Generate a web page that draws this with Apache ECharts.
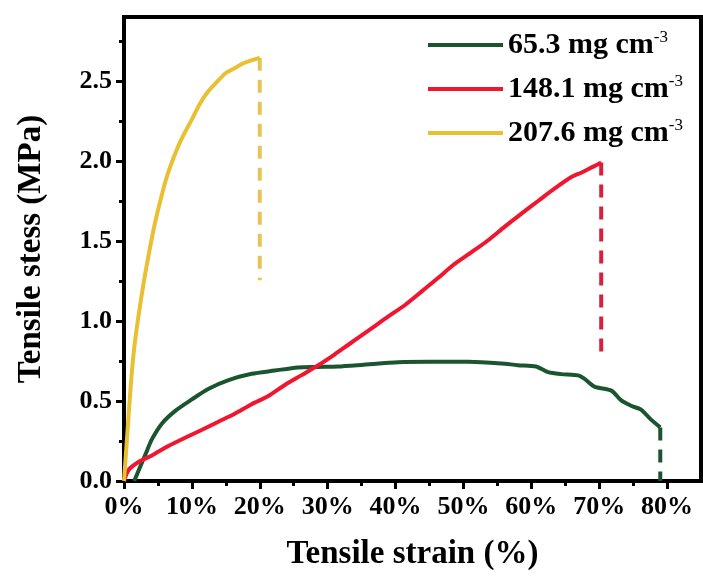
<!DOCTYPE html>
<html>
<head>
<meta charset="utf-8">
<script src="https://cdn.jsdelivr.net/npm/echarts@6/dist/echarts.min.js"></script>
<style>
  html, body { margin: 0; padding: 0; background: #fff; }
  #main { width: 703px; height: 579px; }
</style>
</head>
<body>
<div id="main"></div>
<script>
// sample names (density)
var names = ['65.3', '148.1', '207.6'];
var colors = ['#1b5530', '#f0162f', '#e8c032'];
var dashColors = ['#1f5232', '#d81f3b', '#e5c55a'];

// 65.3 mg cm-3
var strain1 = [1.5, 2.2, 3.2, 4.1, 5.6, 7.6, 10, 12.4, 15.4, 18.8, 22.2, 25.6, 28.5, 31.5, 35, 40.4, 45, 50.7, 55.6, 58, 60.7, 62.5, 64.4, 66.9, 67.8, 69.3, 71.8, 73.2, 74.7, 76.2, 77.6, 79];
var stress1 = [0, 0.07, 0.17, 0.26, 0.36, 0.44, 0.51, 0.575, 0.63, 0.67, 0.69, 0.71, 0.713, 0.715, 0.725, 0.742, 0.745, 0.745, 0.735, 0.724, 0.716, 0.68, 0.668, 0.66, 0.64, 0.59, 0.565, 0.505, 0.47, 0.445, 0.385, 0.335];

// 148.1 mg cm-3
var strain2 = [0, 0.7, 2.2, 4.1, 6.6, 9, 11.5, 13.9, 16.3, 18.8, 21.2, 23.7, 26.1, 28.5, 31, 33, 35, 37, 39, 41.4, 44, 46.3, 48.5, 51.2, 53.5, 56.1, 58.5, 61, 63.5, 65.9, 67.5, 68.9, 70.3];
var stress2 = [0, 0.07, 0.12, 0.16, 0.22, 0.27, 0.32, 0.37, 0.42, 0.48, 0.53, 0.6, 0.66, 0.72, 0.79, 0.85, 0.91, 0.97, 1.03, 1.1, 1.19, 1.27, 1.35, 1.43, 1.5, 1.59, 1.67, 1.75, 1.83, 1.9, 1.93, 1.96, 1.99];

// 207.6 mg cm-3
var strain3 = [0, 0.5, 1, 1.5, 2.2, 2.9, 3.66, 4.5, 5.4, 6.3, 7.3, 8.5, 10, 11.2, 12.5, 13.8, 15, 16.3, 17.5, 18.8, 20];
var stress3 = [0, 0.3, 0.6, 0.83, 1.05, 1.24, 1.42, 1.6, 1.76, 1.9, 2.02, 2.14, 2.26, 2.36, 2.44, 2.5, 2.55, 2.58, 2.61, 2.63, 2.645];

// fracture (dashed drop)
var breakStrain = [79, 70.3, 20];
var breakBottom = [0, 0.755, 1.255];

var xTicks = [0, 10, 20, 30, 40, 50, 60, 70, 80];
var xMinorTicks = [5, 15, 25, 35, 45, 55, 65, 75];
var yTicks = [0, 0.5, 1.0, 1.5, 2.0, 2.5];
var yMinorTicks = [0.25, 0.75, 1.25, 1.75, 2.25, 2.75];

var FONT = '"Liberation Serif", "Times New Roman", serif';
var strains = [strain1, strain2, strain3];
var stresses = [stress1, stress2, stress3];

function pairs(xs, ys) {
  return xs.map(function (x, i) { return [x, ys[i]]; });
}

var series = [];
names.forEach(function (n, i) {
  series.push({
    name: n, type: 'line', data: pairs(strains[i], stresses[i]),
    showSymbol: false, smooth: 0.25,
    lineStyle: { color: colors[i], width: 4 }, itemStyle: { color: colors[i] },
    z: 3 + i
  });
});
names.forEach(function (n, i) {
  var s = stresses[i];
  series.push({
    name: n + ' break', type: 'line',
    data: [[breakStrain[i], s[s.length - 1]], [breakStrain[i], breakBottom[i]]],
    showSymbol: false,
    lineStyle: { color: dashColors[i], width: 4, type: [13, 9] },
    z: 2
  });
});

var chart = echarts.init(document.getElementById('main'));
var option = {
  animation: false,
  backgroundColor: '#fff',
  grid: { left: 124, right: 2, top: 17, bottom: 98, show: true, borderColor: '#000', borderWidth: 4 },
  legend: {
    data: names, orient: 'vertical', left: 423, top: 24,
    itemWidth: 75, itemHeight: 4, itemGap: 13, icon: 'rect',
    formatter: function (name) { return '{a|' + name + ' mg cm}{s|-3}'; },
    textStyle: {
      rich: {
        a: { fontFamily: FONT, fontSize: 30, fontWeight: 'bold', color: '#000', lineHeight: 32 },
        s: { fontFamily: FONT, fontSize: 17, color: '#000', lineHeight: 32, verticalAlign: 'top' }
      }
    }
  },
  xAxis: [{
    type: 'value', min: 0, max: 85,
    name: 'Tensile strain (%)', nameLocation: 'middle', nameGap: 57,
    nameTextStyle: { fontFamily: FONT, fontSize: 33, fontWeight: 'bold', color: '#000' },
    axisLine: { show: true, lineStyle: { color: '#000', width: 4 } },
    axisTick: { show: true, customValues: xTicks, length: 8, lineStyle: { color: '#000', width: 3 } },
    axisLabel: {
      customValues: xTicks, margin: 13,
      formatter: function (v) { return v + '%'; },
      fontFamily: FONT, fontSize: 26, fontWeight: 'bold', color: '#000'
    },
    splitLine: { show: false }
  }, {
    type: 'value', min: 0, max: 85, position: 'bottom',
    axisLine: { show: false },
    axisTick: { show: true, customValues: xMinorTicks, length: 5, lineStyle: { color: '#000', width: 3 } },
    axisLabel: { show: false }, splitLine: { show: false }
  }],
  yAxis: [{
    type: 'value', min: 0, max: 2.9,
    name: 'Tensile stess (MPa)', nameLocation: 'middle', nameGap: 76,
    nameTextStyle: { fontFamily: FONT, fontSize: 33, fontWeight: 'bold', color: '#000' },
    axisLine: { show: true, lineStyle: { color: '#000', width: 4 } },
    axisTick: { show: true, customValues: yTicks, length: 8, lineStyle: { color: '#000', width: 3 } },
    axisLabel: {
      customValues: yTicks, margin: 12,
      formatter: function (v) { return v.toFixed(1); },
      fontFamily: FONT, fontSize: 26, fontWeight: 'bold', color: '#000'
    },
    splitLine: { show: false }
  }, {
    type: 'value', min: 0, max: 2.9, position: 'left',
    axisLine: { show: false },
    axisTick: { show: true, customValues: yMinorTicks, length: 5, lineStyle: { color: '#000', width: 3 } },
    axisLabel: { show: false }, splitLine: { show: false }
  }],
  series: series
};
chart.setOption(option);
</script>
</body>
</html>
